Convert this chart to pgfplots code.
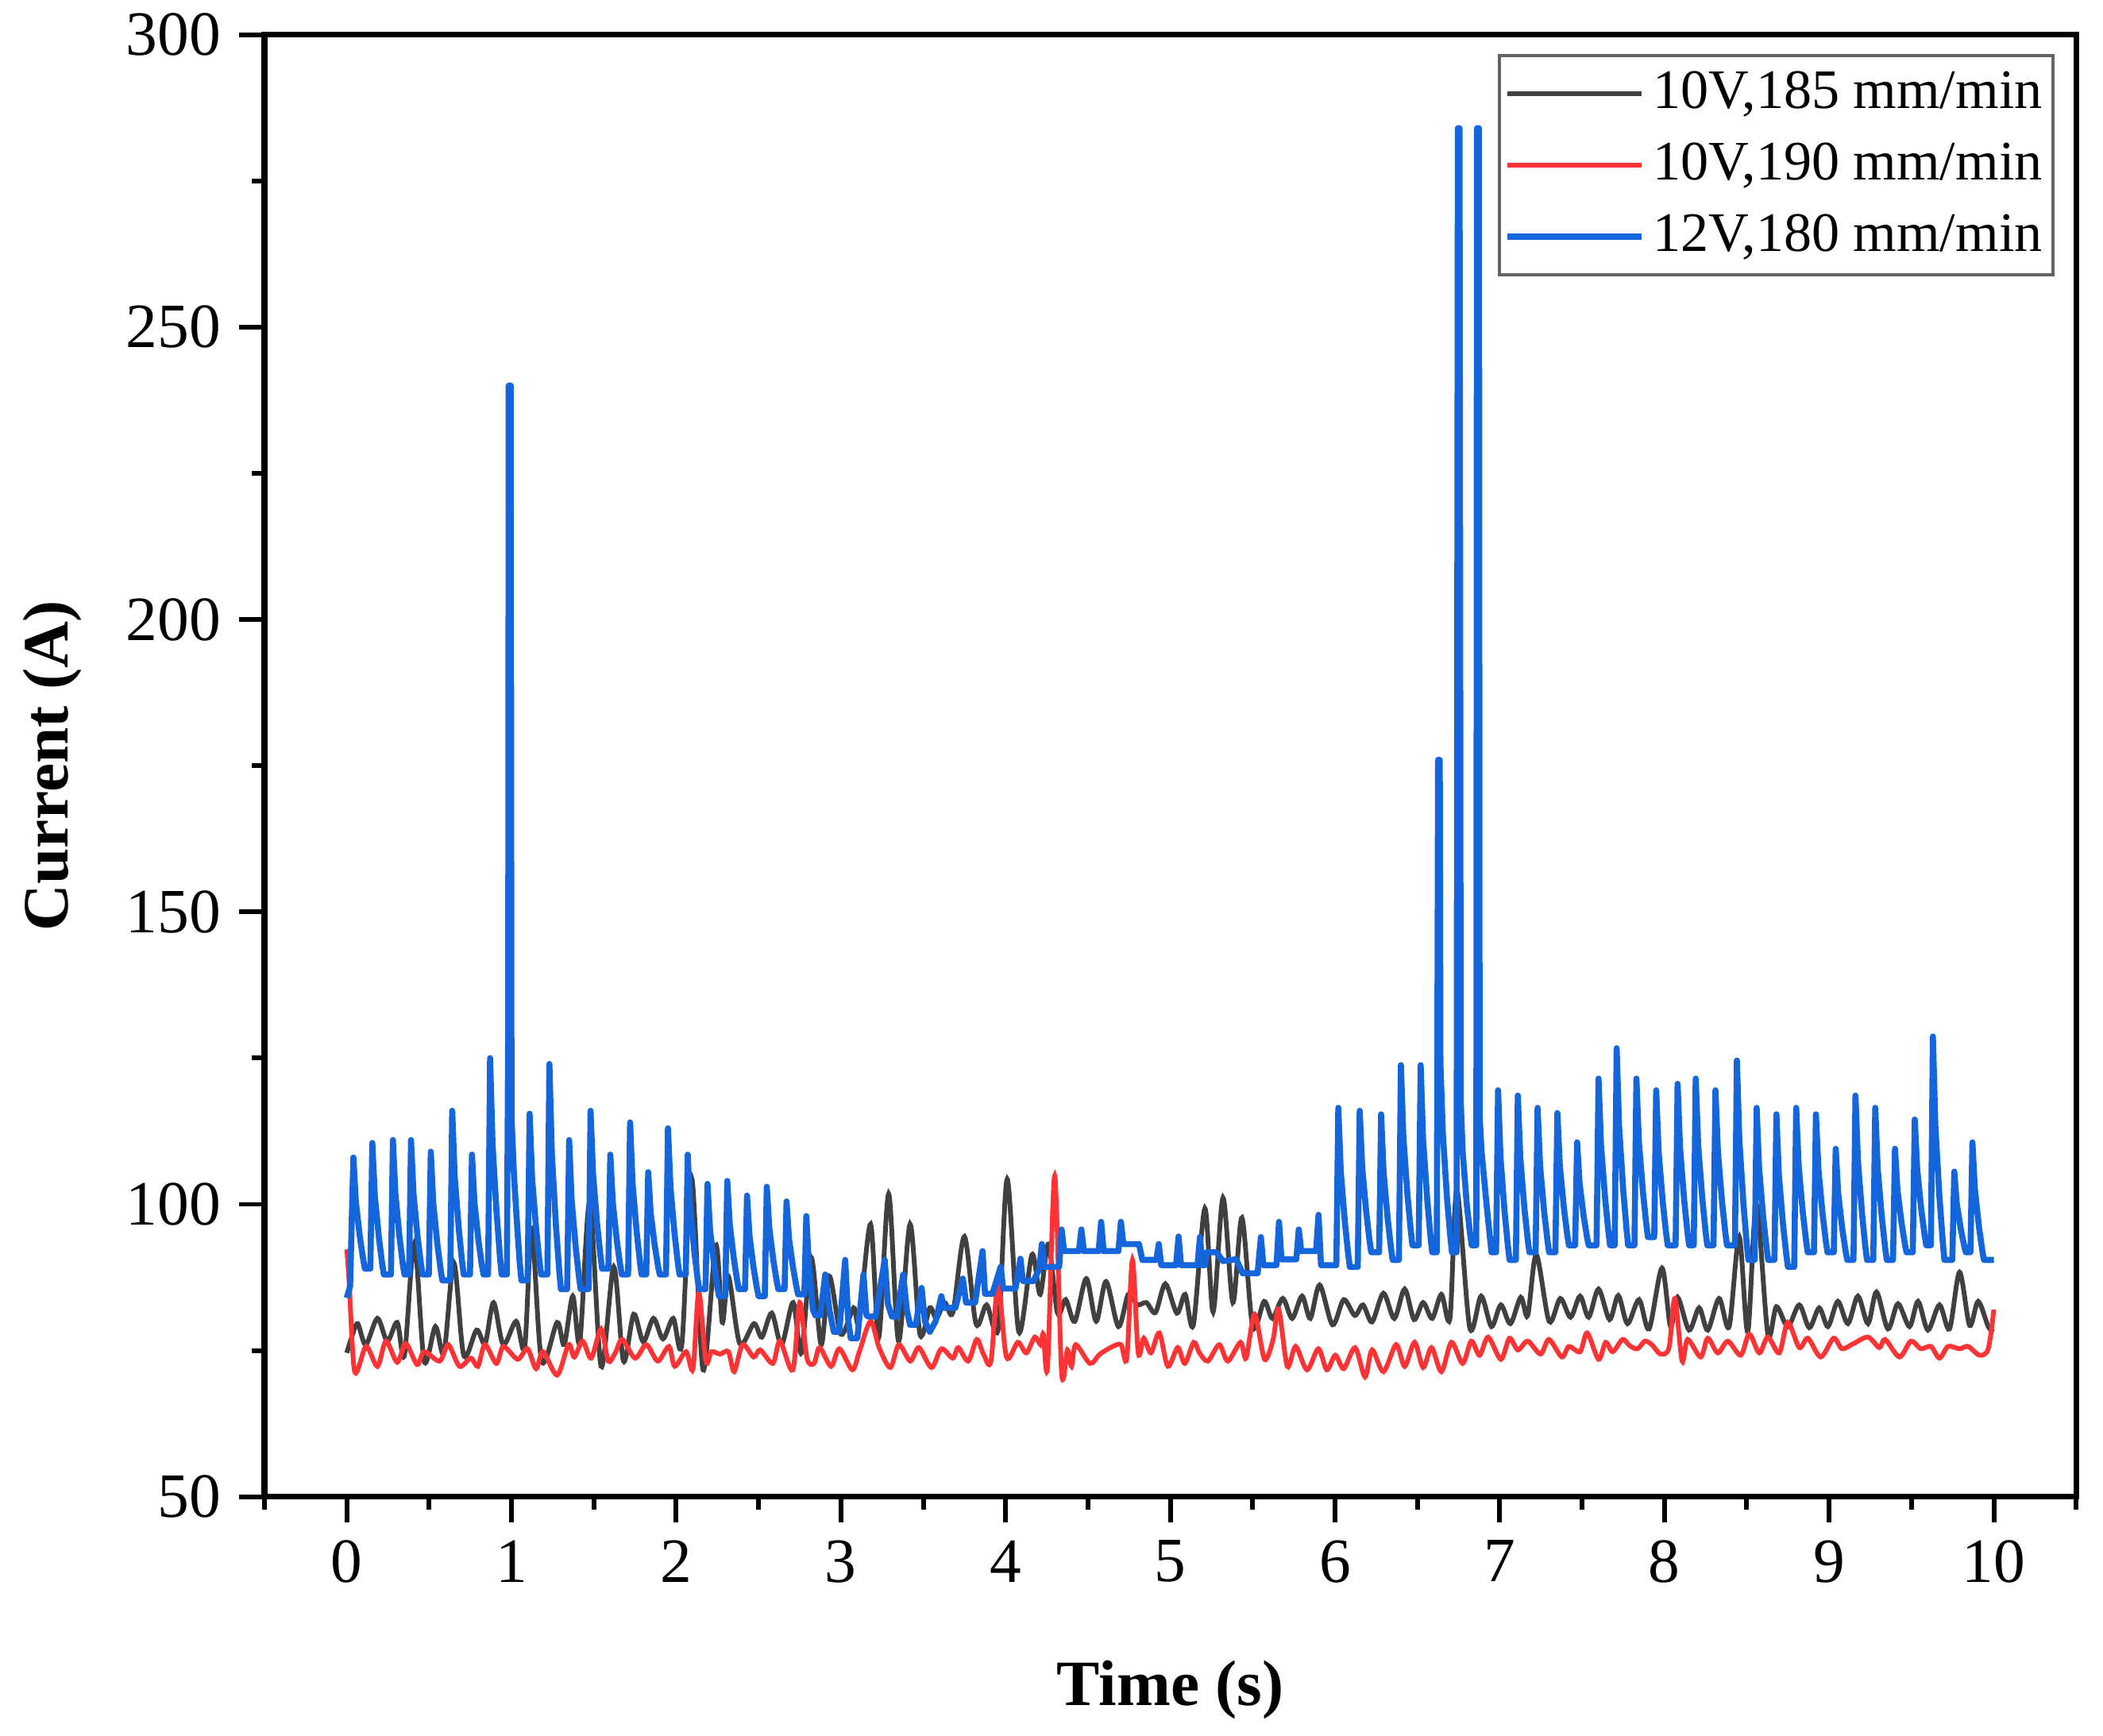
\documentclass[border=0pt]{standalone}
\usepackage{pgfplots}
\pgfplotsset{compat=1.18}
\usepackage{fontspec}
\setmainfont{Liberation Serif}
\definecolor{cblack}{RGB}{64,64,64}
\definecolor{cred}{RGB}{255,51,51}
\definecolor{cblue}{RGB}{21,101,220}
\begin{document}
\begin{tikzpicture}
\path[use as bounding box] (-50.3pt,-45.5pt) rectangle (349.7pt,284.7pt);
\begin{axis}[
  scale only axis, width=344.6pt, height=278.1pt,
  at={(0,0)}, anchor=south west,
  xmin=-0.5, xmax=10.5, ymin=50, ymax=300,
  xtick={0,1,...,10}, ytick={50,100,...,300},
  minor xtick={-0.5,0.5,...,10.5}, minor ytick={75,125,...,275},
  xtick pos=left, ytick pos=left, tick align=outside,
  major tick length=4.8pt, minor tick length=2.4pt,
  every tick/.style={black, line width=0.9pt},
  axis line style={line width=1.1pt},
  /pgf/number format/assume math mode=true,
  ticklabel style={font=\fontsize{12}{14}\selectfont},
  xlabel={Time (s)}, ylabel={Current (A)},
  label style={font=\fontsize{12.3}{14}\selectfont\bfseries},
  xlabel style={at={(axis description cs:0.5,-0.1323)}, anchor=center},
  ylabel style={at={(axis description cs:-0.117,0.5)}, anchor=center},
  legend style={at={(axis description cs:0.988,0.987)}, anchor=north east,
    font=\fontsize{10.6}{13}\selectfont, draw={rgb,255:red,100;green,100;blue,100}, line width=0.6pt,
    inner xsep=1pt, inner ysep=0.5pt, row sep=0pt,
    nodes={inner sep=1pt, text height=8.6pt, text depth=3pt},
    /tikz/every odd column/.append style={column sep=0.6pt}},
  legend cell align=left,
  legend image code/.code={\draw[#1] (0pt,0pt) -- (25.5pt,0pt);},
]
\addplot[cblack, line width=0.9pt, smooth, tension=0.5] coordinates {
(0.0,74.6) (0.03,77.3) (0.066,79.6) (0.115,76) (0.186,80.5) (0.246,76.6) (0.306,79.8) (0.35,74.2) (0.41,93.4) (0.47,73.2) (0.538,79.1) (0.59,74.6) (0.65,90) (0.71,74.2) (0.788,78.5) (0.84,76.2) (0.891,83.2) (0.95,76) (1.028,80) (1.08,75.5) (1.123,95.4) (1.183,73.2) (1.277,79.8) (1.32,76) (1.372,84.3) (1.415,76.5) (1.475,100.4) (1.544,72.3) (1.621,89.3) (1.68,73.2) (1.742,81.2) (1.80,76.5) (1.862,80.5) (1.92,77) (1.982,80.5) (2.034,76) (2.094,104.5) (2.163,71.7) (2.24,93) (2.28,79.8) (2.317,87.7) (2.386,76.2) (2.472,79.6) (2.52,77.3) (2.58,81.4) (2.64,76) (2.71,83.2) (2.76,74.6) (2.82,90.9) (2.88,76) (2.93,87.7) (3.0,77.8) (3.077,82.3) (3.11,80) (3.18,96.6) (3.23,77.3) (3.29,101.8) (3.35,76.6) (3.42,96.6) (3.48,77.8) (3.54,82.3) (3.58,80.5) (3.63,83.2) (3.68,81.5) (3.75,94.5) (3.82,79.6) (3.885,82.8) (3.955,78.7) (4.01,104.3) (4.08,78.2) (4.16,91.4) (4.21,84.6) (4.26,93.2) (4.315,81.4) (4.365,83.7) (4.42,80) (4.49,87.3) (4.55,80) (4.61,86.8) (4.685,79.1) (4.745,84.6) (4.80,82.8) (4.855,83.2) (4.91,81.5) (4.97,86.4) (5.04,81.4) (5.09,84.6) (5.14,79.4) (5.21,99.3) (5.26,81.6) (5.32,101.1) (5.38,83.2) (5.435,97.7) (5.50,79.1) (5.57,83.4) (5.62,80.5) (5.683,83.9) (5.74,80.5) (5.80,84.3) (5.85,80.5) (5.907,86.2) (5.985,79.4) (6.053,83.7) (6.12,81) (6.17,82.8) (6.225,79.9) (6.294,84.8) (6.36,80.5) (6.423,85.5) (6.48,80.3) (6.535,83.2) (6.59,80.5) (6.646,84.6) (6.698,80.5) (6.74,102.4) (6.818,78.9) (6.887,84.3) (6.95,79.1) (7.007,82.8) (7.065,79.6) (7.128,84.1) (7.17,81) (7.222,91.4) (7.30,80) (7.368,83.9) (7.43,80.7) (7.488,84.3) (7.54,80.7) (7.60,85.5) (7.667,80.3) (7.72,84.4) (7.776,79.6) (7.846,83.7) (7.907,78.7) (7.985,89.1) (8.037,79.1) (8.08,84.1) (8.15,78.5) (8.211,82.3) (8.263,78.5) (8.332,83.9) (8.393,79.1) (8.454,94.5) (8.506,78.2) (8.558,100) (8.628,77.8) (8.68,82.5) (8.749,79.1) (8.819,82.8) (8.88,78.9) (8.94,82.3) (8.993,79.1) (9.053,83.4) (9.114,79.6) (9.175,84.3) (9.236,79.6) (9.288,85) (9.357,78.7) (9.418,83) (9.488,79.1) (9.54,83.4) (9.6,78.5) (9.67,82.8) (9.731,78.7) (9.792,88.4) (9.853,79.3) (9.905,83.4) (9.966,79.1) (10.0,78.2)
};
\addlegendentry{10V,185 mm/min}
\addplot[cred, line width=0.9pt, smooth, tension=0.5] coordinates {
(0,92.3) (0.014,86.8) (0.048,71.4) (0.117,75.7) (0.186,72.3) (0.238,76.6) (0.306,73) (0.358,76.2) (0.427,72.6) (0.47,74.8) (0.564,73.2) (0.616,76) (0.684,72.3) (0.753,73.7) (0.796,72.3) (0.839,76) (0.908,72.8) (0.951,75.7) (1.037,73.5) (1.097,75.3) (1.149,71.9) (1.192,74.8) (1.277,70.8) (1.346,76) (1.381,73.9) (1.432,76.6) (1.484,73.7) (1.544,78.7) (1.587,73.2) (1.63,74.6) (1.673,76.9) (1.75,73.7) (1.819,76) (1.888,73.2) (1.956,75.7) (1.991,72.3) (2.06,74.8) (2.102,71.9) (2.137,85) (2.18,73.2) (2.214,74.8) (2.266,74.4) (2.317,74.8) (2.352,71.4) (2.403,76) (2.47,73.9) (2.51,75.1) (2.587,72.8) (2.63,76.6) (2.708,71.7) (2.75,83.2) (2.794,73.7) (2.837,72.8) (2.871,75.5) (2.94,72.3) (2.991,75.3) (3.069,71.7) (3.112,74.8) (3.18,80) (3.232,75.5) (3.30,72.1) (3.352,76) (3.421,73.2) (3.473,75.5) (3.55,72.1) (3.61,75.3) (3.679,73.7) (3.713,75.5) (3.773,73.2) (3.825,76.9) (3.868,74.2) (3.911,73.2) (3.954,86.4) (4.005,73.9) (4.074,76.4) (4.126,74.6) (4.177,77.3) (4.212,76) (4.229,77.8) (4.255,72.3) (4.298,104.9) (4.34,71.2) (4.375,75.1) (4.40,72.3) (4.426,76) (4.512,72.8) (4.573,74.4) (4.65,75.7) (4.701,76) (4.736,73.7) (4.77,90.5) (4.805,74.6) (4.839,77.1) (4.882,74.6) (4.933,78) (4.985,72.3) (5.045,75.5) (5.088,72.8) (5.142,76.4) (5.177,74.6) (5.228,73.2) (5.297,76) (5.349,73.2) (5.426,76.4) (5.46,73.7) (5.512,81.2) (5.572,73.5) (5.624,76.9) (5.658,82.1) (5.71,72.3) (5.761,75.7) (5.83,71.7) (5.899,75.3) (5.95,71.7) (6.002,74.2) (6.053,71.9) (6.122,75.5) (6.182,70.5) (6.225,75.1) (6.294,71.4) (6.371,76) (6.423,72.3) (6.483,76.4) (6.535,72.1) (6.586,75.5) (6.646,71.4) (6.707,76.4) (6.775,72.8) (6.827,76.6) (6.878,74.2) (6.93,77.3) (7.007,73.5) (7.059,77.1) (7.11,75.1) (7.17,76.6) (7.248,74.4) (7.299,76.9) (7.377,73.9) (7.42,75.7) (7.488,74.8) (7.531,78) (7.60,73.5) (7.643,76.4) (7.686,74.8) (7.746,76.9) (7.79,75.8) (7.837,75.3) (7.881,76.6) (7.924,76) (7.976,74.4) (8.028,75.5) (8.063,83.9) (8.107,73.2) (8.141,76.9) (8.22,73.9) (8.263,77.1) (8.324,74.6) (8.385,76.6) (8.463,74.2) (8.515,77.8) (8.576,74.6) (8.628,77.3) (8.697,74.6) (8.749,79.8) (8.819,75.5) (8.871,77.1) (8.949,73.9) (9.027,77.1) (9.079,75.3) (9.149,76.2) (9.236,77.3) (9.305,75.5) (9.34,76.9) (9.427,73.9) (9.496,76.6) (9.557,75.3) (9.618,75.7) (9.67,73.7) (9.722,75.7) (9.792,75.3) (9.844,75.7) (9.913,74.2) (9.966,75.3) (10.0,82)
};
\addlegendentry{10V,190 mm/min}
\addplot[cblue, line width=1.15pt, line join=round] coordinates {
(0,84) (0.02,86) (0.04,108) (0.055,100.4) (0.08,94.3) (0.10,90.5) (0.11,89)
(0.143,89) (0.155,110.5) (0.17,101.5) (0.195,94.3) (0.215,89.8) (0.225,88)
(0.268,88) (0.28,111) (0.295,101.8) (0.32,94.4) (0.34,89.8) (0.35,88)
(0.378,88) (0.39,111) (0.405,101.8) (0.43,94.4) (0.45,89.8) (0.46,88)
(0.498,88) (0.51,109) (0.525,100.2) (0.55,93.2) (0.57,88.8) (0.58,87)
(0.628,87) (0.64,116) (0.655,104.8) (0.68,95.8) (0.70,90.2) (0.71,88)
(0.748,88) (0.76,108.5) (0.775,100.3) (0.80,93.7) (0.82,89.6) (0.83,88)
(0.858,88) (0.87,125) (0.885,110.2) (0.91,98.4) (0.93,91) (0.94,88)
(0.972,88) (0.98,130) (0.983,240) (0.995,240) (1.0,115) (1.015,105) (1.035,96) (1.05,90) (1.06,87)
(1.098,87) (1.11,115.5) (1.125,104.5) (1.15,95.7) (1.17,90.2) (1.18,88)
(1.218,88) (1.23,124) (1.245,108.6) (1.27,96.3) (1.29,88.6) (1.30,85.5)
(1.338,85.5) (1.35,111) (1.365,100.8) (1.39,92.6) (1.41,87.5) (1.42,85.5)
(1.468,85.5) (1.48,116) (1.495,105.2) (1.52,96.6) (1.54,91.2) (1.55,89)
(1.588,89) (1.60,108.5) (1.615,100.3) (1.64,93.7) (1.66,89.6) (1.67,88)
(1.708,88) (1.72,114) (1.735,103.6) (1.76,95.3) (1.78,90.1) (1.79,88)
(1.818,88) (1.83,105.5) (1.845,98.5) (1.87,92.9) (1.89,89.4) (1.90,88)
(1.938,88) (1.95,113) (1.965,103) (1.99,95) (2.01,90) (2.02,88)
(2.058,88) (2.07,108.5) (2.085,99.3) (2.11,91.9) (2.13,87.3) (2.14,85.5)
(2.178,85.5) (2.19,103.5) (2.205,95.8) (2.23,89.7) (2.25,85.8) (2.26,84.3)
(2.298,84.3) (2.31,104) (2.325,96.6) (2.35,90.7) (2.37,87) (2.38,85.5)
(2.418,85.5) (2.43,101.5) (2.445,94.6) (2.47,89.1) (2.49,85.7) (2.50,84.3)
(2.538,84.3) (2.55,103) (2.565,96) (2.59,90.4) (2.61,86.9) (2.62,85.5)
(2.658,85.5) (2.67,100.5) (2.685,94.1) (2.71,89.1) (2.73,85.9) (2.74,84.6)
(2.778,84.6) (2.79,98) (2.805,90) (2.83,82) (2.845,81) (2.875,81)
(2.905,88) (2.93,82) (2.957,78.2) (2.99,78.2) (3.026,90.5) (3.045,80) (3.06,77.1) (3.10,77.1) (3.137,88) (3.155,81) (3.17,80.8) (3.21,80.8) (3.266,90.5) (3.285,83) (3.31,80.8) (3.34,80.8) (3.378,88) (3.40,82) (3.42,79.4) (3.455,79.4) (3.49,85.7) (3.51,80) (3.54,78.2) (3.575,80) (3.61,84.3) (3.625,82.3) (3.695,82.3) (3.74,87.3) (3.76,83.2) (3.815,83.2) (3.86,92) (3.875,84.7) (3.92,84.7) (3.97,89.3) (3.985,85.6) (4.06,85.6) (4.09,90.7) (4.105,86.9) (4.17,86.9) (4.205,89) (4.22,93.2) (4.235,89.3) (4.28,89.3) (4.325,89.3) (4.34,95.7) (4.355,92) (4.445,92) (4.46,95.7) (4.475,92) (4.565,92) (4.58,97) (4.595,92) (4.685,92) (4.70,97) (4.715,93.2) (4.81,93.2) (4.83,90.5) (4.915,90.5) (4.93,93.2) (4.945,89.6) (5.035,89.6) (5.05,94.5) (5.065,89.6) (5.165,89.6) (5.18,94.4) (5.195,89.6) (5.21,89.6) (5.22,91.8) (5.28,91.8) (5.32,90.3) (5.40,90.6) (5.44,88.2) (5.53,88.2) (5.55,94.4) (5.565,89.6) (5.645,89.6) (5.66,97) (5.675,90.6) (5.765,90.6) (5.78,95.7) (5.795,92) (5.885,92) (5.90,98.2) (5.915,89.6) (6.008,89.6)
(6.02,116.5) (6.035,105.6) (6.06,96.9) (6.08,91.5) (6.09,89.3)
(6.138,89.3) (6.15,116) (6.165,106.3) (6.19,98.6) (6.21,93.7) (6.22,91.8)
(6.268,91.8) (6.28,115.4) (6.295,105.4) (6.32,97.5) (6.34,92.5) (6.35,90.5)
(6.388,90.5) (6.40,123.8) (6.415,111.5) (6.44,101.6) (6.46,95.5) (6.47,93)
(6.508,93) (6.52,123.8) (6.535,111) (6.56,100.8) (6.58,94.4) (6.59,91.8)
(6.618,91.8) (6.622,134) (6.626,176) (6.636,176) (6.64,124) (6.655,112) (6.68,101) (6.70,94.5) (6.71,91.8)
(6.738,91.8) (6.742,188) (6.746,284) (6.756,284) (6.76,200) (6.763,118) (6.775,109) (6.80,100) (6.82,95) (6.83,93)
(6.858,93) (6.862,284) (6.874,284) (6.878,115) (6.89,109) (6.92,100) (6.94,94.5) (6.95,91.8)
(6.978,91.8) (6.99,119.5) (7.005,107.9) (7.03,98.6) (7.05,92.8) (7.06,90.5)
(7.098,90.5) (7.11,118.6) (7.125,107.9) (7.15,99.3) (7.17,94) (7.18,91.8)
(7.218,91.8) (7.23,116.5) (7.245,106.6) (7.27,98.7) (7.29,93.8) (7.30,91.8)
(7.338,91.8) (7.35,115.6) (7.365,106.6) (7.39,99.3) (7.41,94.8) (7.42,93)
(7.458,93) (7.47,110.6) (7.485,103.6) (7.51,97.9) (7.53,94.4) (7.54,93)
(7.588,93) (7.60,121.5) (7.615,110.1) (7.64,101) (7.66,95.3) (7.67,93)
(7.698,93) (7.71,126.7) (7.725,113.2) (7.75,102.4) (7.77,95.7) (7.78,93)
(7.818,93) (7.83,121.5) (7.845,110.7) (7.87,102) (7.89,96.6) (7.90,94.4)
(7.938,94.4) (7.95,119.5) (7.965,108.9) (7.99,100.4) (8.01,95.1) (8.02,93)
(8.068,93) (8.08,120.6) (8.095,109.6) (8.12,100.7) (8.14,95.2) (8.15,93)
(8.178,93) (8.19,121.5) (8.205,110.1) (8.23,101) (8.25,95.3) (8.26,93)
(8.298,93) (8.31,119.5) (8.325,108.9) (8.35,100.4) (8.37,95.1) (8.38,93)
(8.428,93) (8.44,124.6) (8.455,111) (8.48,100) (8.50,93.2) (8.51,90.5)
(8.548,90.5) (8.56,116.5) (8.575,106.1) (8.60,97.8) (8.62,92.6) (8.63,90.5)
(8.668,90.5) (8.68,115.4) (8.695,105) (8.72,96.6) (8.74,91.4) (8.75,89.3)
(8.788,89.3) (8.80,116.5) (8.815,106.6) (8.84,98.7) (8.86,93.8) (8.87,91.8)
(8.908,91.8) (8.92,115.4) (8.935,106) (8.96,98.4) (8.98,93.7) (8.99,91.8)
(9.028,91.8) (9.04,109.5) (9.055,101.9) (9.08,95.8) (9.10,92) (9.11,90.5)
(9.148,90.5) (9.16,118.6) (9.175,107.4) (9.20,98.4) (9.22,92.7) (9.23,90.5)
(9.268,90.5) (9.28,116.5) (9.295,106.1) (9.32,97.8) (9.34,92.6) (9.35,90.5)
(9.388,90.5) (9.40,109.5) (9.415,102.4) (9.44,96.8) (9.46,93.2) (9.47,91.8)
(9.508,91.8) (9.52,114.5) (9.535,105.9) (9.56,99) (9.58,94.7) (9.59,93)
(9.618,93) (9.63,128.7) (9.645,113.4) (9.67,101.2) (9.69,93.6) (9.70,90.5)
(9.748,90.5) (9.76,105.6) (9.775,100.1) (9.80,95.7) (9.82,92.9) (9.83,91.8)
(9.858,91.8) (9.87,110.6) (9.885,102.6) (9.91,96.1) (9.93,92.1) (9.94,90.5)
(10.0,90.5)
};
\addlegendentry{12V,180 mm/min}
\end{axis}
\end{tikzpicture}
\end{document}
